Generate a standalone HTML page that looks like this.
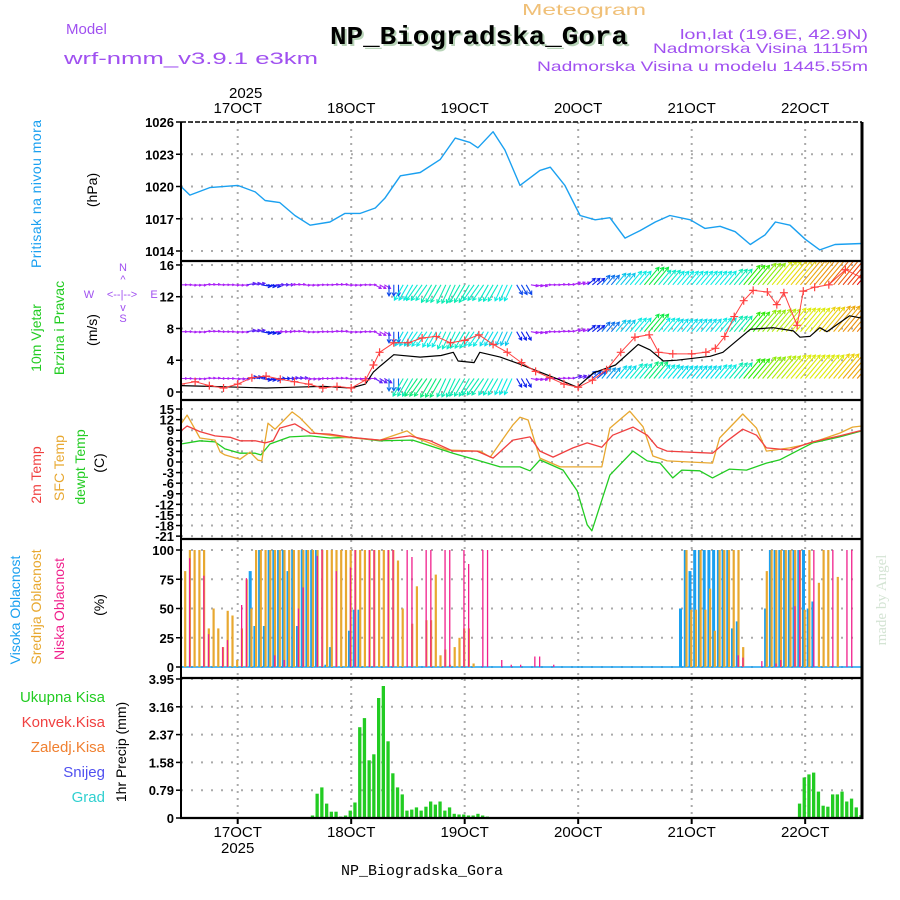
<!DOCTYPE html>
<html><head><meta charset="utf-8"><title>Meteogram NP_Biogradska_Gora</title>
<style>
html,body{margin:0;padding:0;background:#fff;}
svg{display:block;font-family:"Liberation Sans",sans-serif;}
.tick{font:bold 13px "Liberation Sans",sans-serif;fill:#000;text-anchor:end;}
.day{font:15px "Liberation Sans",sans-serif;fill:#000;text-anchor:middle;}
.lab{font:14px "Liberation Sans",sans-serif;text-anchor:middle;}
</style></head>
<body>
<svg id="chart" width="900" height="900" viewBox="0 0 900 900" xmlns="http://www.w3.org/2000/svg">
<defs>
<clipPath id="cp1"><rect x="181" y="122" width="681" height="138"/></clipPath>
<clipPath id="cp2"><rect x="181" y="262" width="681" height="137"/></clipPath>
<clipPath id="cp3"><rect x="181" y="401" width="681" height="137"/></clipPath>
<clipPath id="cp4"><rect x="181" y="540" width="681" height="137"/></clipPath>
<clipPath id="cp5"><rect x="181" y="679" width="681" height="139"/></clipPath>
</defs>
<rect x="0" y="0" width="900" height="900" fill="#fff"/>

<text x="522" y="15" font-size="16" fill="#f0c078" textLength="124" lengthAdjust="spacingAndGlyphs">Meteogram</text>
<text x="66" y="34" font-size="15" fill="#a050f0">Model</text>
<text x="64" y="64" font-size="17" fill="#a050f0" textLength="254" lengthAdjust="spacingAndGlyphs">wrf-nmm_v3.9.1  e3km</text>
<text x="332" y="46" font-family="Liberation Mono" font-weight="bold" font-size="26" fill="#b8d4b8" textLength="298" lengthAdjust="spacingAndGlyphs">NP_Biogradska_Gora</text>
<text x="330" y="44" font-family="Liberation Mono" font-weight="bold" font-size="26" fill="#000" textLength="298" lengthAdjust="spacingAndGlyphs">NP_Biogradska_Gora</text>
<text x="680" y="39" font-size="14" fill="#a050f0" textLength="188" lengthAdjust="spacingAndGlyphs">lon,lat (19.6E, 42.9N)</text>
<text x="653" y="53" font-size="14" fill="#a050f0" textLength="215" lengthAdjust="spacingAndGlyphs">Nadmorska Visina 1115m</text>
<text x="537" y="71" font-size="14" fill="#a050f0" textLength="331" lengthAdjust="spacingAndGlyphs">Nadmorska Visina u modelu 1445.55m</text>

<g id="g1"></g>
<g id="g2"></g>
<g id="g3"></g>
<g id="g4"></g>
<g id="g5"></g>
<g id="gframe"></g>
<g id="gaxis"></g>

<text transform="translate(41,194) rotate(-90)" class="lab" fill="#1aa0f0" textLength="148">Pritisak na nivou mora</text>
<text transform="translate(97,190) rotate(-90)" class="lab" fill="#000">(hPa)</text>
<text transform="translate(41,338) rotate(-90)" class="lab" fill="#22cc22">10m Vjetar</text>
<text transform="translate(64,328) rotate(-90)" class="lab" fill="#22cc22">Brzina i Pravac</text>
<text transform="translate(97,330) rotate(-90)" class="lab" fill="#000">(m/s)</text>
<g font-size="11" fill="#a050f0" text-anchor="middle">
<text x="123" y="271">N</text>
<text x="123" y="283">^</text>
<text x="89" y="298">W</text>
<text x="122" y="298">&lt;--|--&gt;</text>
<text x="154" y="298">E</text>
<text x="123" y="311">v</text>
<text x="123" y="322">S</text>
</g>
<text transform="translate(41,475) rotate(-90)" class="lab" fill="#f04040">2m Temp</text>
<text transform="translate(64,468) rotate(-90)" class="lab" fill="#e8a830">SFC Temp</text>
<text transform="translate(85,467) rotate(-90)" class="lab" fill="#22cc22">dewpt Temp</text>
<text transform="translate(104,463) rotate(-90)" class="lab" fill="#000">(C)</text>
<text transform="translate(20,610) rotate(-90)" class="lab" fill="#1aa0f0">Visoka Oblacnost</text>
<text transform="translate(41,607) rotate(-90)" class="lab" fill="#e8a830">Srednja Oblacnost</text>
<text transform="translate(64,609) rotate(-90)" class="lab" fill="#f0208c">Niska Oblacnost</text>
<text transform="translate(104,605) rotate(-90)" class="lab" fill="#000">(%)</text>
<g font-size="15" text-anchor="end">
<text x="105" y="702" fill="#22cc22">Ukupna  Kisa</text>
<text x="105" y="727" fill="#f04040">Konvek.Kisa</text>
<text x="105" y="752" fill="#f08030">Zaledj.Kisa</text>
<text x="105" y="777" fill="#5050f0">Snijeg</text>
<text x="105" y="802" fill="#30d0d0">Grad</text>
</g>
<text transform="translate(126,752) rotate(-90)" class="lab" fill="#000" font-size="15">1hr Precip (mm)</text>
<text transform="translate(886,600) rotate(-90)" font-family="Liberation Serif" font-size="15" fill="#d4e4d4" text-anchor="middle">made by Angel</text>
<text x="422" y="875" font-family="Liberation Mono" font-size="15" fill="#000" text-anchor="middle">NP_Biogradska_Gora</text>
</svg>
<script>
// ---------- DATA ----------
const dayLabels = ["17OCT","18OCT","19OCT","20OCT","21OCT","22OCT"];
const pressTicks = [1014,1017,1020,1023,1026];
const windTicks = [0,4,8,12,16];
const tempTicks = [15,12,9,6,3,0,-3,-6,-9,-12,-15,-18,-21];
const cloudTicks = [0,25,50,75,100];
const precipTicks = [0,0.79,1.58,2.37,3.16,3.95];

const pressT = [-12,-10.1,-5.9,0,3.7,5.8,8.9,12.1,15.3,19.5,22.7,25.9,29.1,31.1,34.4,38.6,42.8,46,49.1,50.8,54,56.5,59.7,63.9,66.1,69.2,72.4,75.6,78.7,81.9,85.1,88.3,91.4,95.7,98.8,102,105.2,108.4,111.5,113.7,116.8,120,123.1,126.3,132];
const pressV = [1020.0,1019.2,1019.9,1020.1,1019.5,1018.7,1018.5,1017.3,1016.4,1016.7,1017.5,1017.5,1018.0,1018.9,1021.0,1021.3,1022.5,1024.5,1024.1,1023.6,1025.1,1023.4,1020.1,1021.5,1021.8,1020.1,1017.3,1016.9,1017.1,1015.2,1015.9,1016.7,1017.3,1016.9,1016.1,1016.3,1015.8,1014.6,1015.5,1016.7,1016.4,1015.1,1014.1,1014.6,1014.7];

const windT = [-12,-6,0,6,12,18,24,27,28.7,30,33,38.6,43,45.6,46.6,50,51.2,55.5,59.7,63.9,68.2,71.8,75.2,79.9,84.7,87.2,90,92.9,99.9,102.6,108.4,113.2,117.5,118.9,121,123.1,124.6,129.4,132];
const windV = [0.8,0.7,0.6,0.5,0.6,0.7,0.5,1.0,2.5,3.2,4.7,4.4,4.6,5.0,3.9,3.7,5.0,4.4,3.5,2.5,1.5,0.6,2.4,3.4,6.0,5.3,3.9,4.0,4.5,5.0,7.9,8.1,7.7,6.9,7.0,8.1,7.6,9.6,9.3];
const gustT = [-12,-9,-6,-3,0,3,6,9,12,15,18,21,24,27,28.7,30,33,36,39,42,45,48,51,54,57,60,63,66,69,72,75,78,81,84,87,89,92,96,99,101,103,105,107,109,112,114,115.5,118.3,119.6,122,125,128.5,132];
const gustV = [1.0,1.3,0.8,0.5,1.0,1.8,2.0,1.6,1.3,1.0,0.5,0.7,0.5,1.5,3.4,5.0,6.2,6.2,6.8,7.0,6.2,6.5,7.2,6.0,5.0,3.7,2.6,1.8,1.0,0.6,1.5,2.8,5.0,6.9,7.2,5.0,4.8,4.8,5.0,5.5,7.0,9.5,11.5,12.8,12.6,11.0,12.5,8.4,12.7,13.2,13.5,15.4,14.4];

const arrowT = [-12,-9,-6,-3,0,3,6,9,12,15,18,21,24,27,30,33,36,39,42,45,48,51,54,57,60,63,66,69,72,75,78,81,84,87,90,93,96,99,102,105,108,111,114,117,120,123,126,129,132];
const arrowDir = [90,95,85,90,95,80,100,90,85,95,90,85,95,90,120,180,210,215,210,205,210,215,210,205,150,100,90,85,70,50,40,40,40,40,40,40,40,40,40,40,40,40,40,40,40,40,40,40,40];
const speedTop = [1.5,1.5,1.5,1.5,1.5,2.5,3,2.5,1.5,1.5,1.5,1.5,1.5,1.5,2,3.5,6,6.5,7,7,7,6.5,6.5,6,3.5,2,1.5,1.5,2,3,4,5,6,8,6.5,6,6,6,6,7,9,10,11,11.5,12,12.5,13.5,14.5,16];
const speedMid = [1.5,1.5,1.5,1.5,1.5,2.5,3,2,1.5,1.5,1.5,1.5,1.5,1.5,2,3.5,5.5,6,6,6.5,6.5,6,5.5,5,3,2,1.5,1.5,2,3,4,5,6,8,6,5.5,5.5,5.5,6,7,9,10,10.5,11,11,11.5,12,12.5,13];
const speedLow = [1.5,1.5,1.5,1.5,2,3,3,3,2.5,2,1.5,1.5,1.5,1.5,2.5,4,7,7.5,7.5,7,7,7,6.5,6,3,2,1.5,1.5,2.5,3.5,4.5,5.5,6.5,7.5,6,5.5,5.5,5.5,6,7,9,10,10.5,11,11,11,11.5,12,12.5];
const arrowRows = [13.5,7.6,1.7];

const t2T = [-12,-10.7,-8,-4.8,-1.6,0.5,3.7,5.8,7.5,8.9,12.1,15.3,19.5,23.8,30.1,36.4,40.7,45.5,50.6,54,58.2,61.8,63.9,66.7,70.9,73.9,77,79.3,83.6,86.6,88.7,90.8,100.4,103.4,106.8,109.7,111.8,116.7,119.5,121.6,127.3,131.5,132];
const t2V = [8.8,10.2,8.6,7.4,7.0,6.0,6.0,5.4,6.0,9.6,10.8,8.2,7.9,7.0,6.2,7.4,6.0,3.1,3.1,1.1,6.2,7.1,3.1,1.4,4.0,5.4,4.2,7.6,9.9,7.6,4.2,3.1,2.5,5.9,9.3,7.6,4.0,3.4,4.8,5.7,7.4,8.8,8.9];
const sfcT = [-12,-10.7,-8,-4.8,-3.7,-2.7,0.5,2.6,4.3,5.1,6.4,7.9,11.5,13.2,16.3,22.7,30.1,35.8,37.9,44.3,51.2,53.4,58.2,59.7,61.4,63.9,68.2,77,78.7,82.9,85.7,87.8,90.8,100.4,101.9,106.8,109.7,111.8,116.7,119.5,123,127.3,130,132];
const sfcV = [10.8,13.3,6.8,6.2,2.8,2.0,0.8,2.8,0.5,0.3,11,9.3,14.2,12.5,8.2,7.0,6.2,8.8,6.8,3.4,3.1,1.4,10.5,12.7,11.9,1.1,-1.4,-1.4,9.6,14.4,10,1.7,0.3,-0.3,6.8,13.6,9.6,3.1,4.0,4.8,6.2,8.2,9.9,10.2];
const dewT = [-12,-8,-4.8,-2.7,0.5,3.7,4.9,6.8,11,15.3,19.5,23.8,30.1,37,45.5,51.2,55.5,59.7,61.8,63.9,68.8,71.8,73.9,74.9,78.7,83.6,86.6,89.3,92,93.9,97.7,100.4,104,107.6,111.8,114.6,119.5,121.6,127.3,132];
const dewV = [5.1,6.0,5.7,3.7,2.5,2.5,2.0,5.1,7.1,7.4,6.8,7.0,6.0,6.2,2.5,0.3,-1.4,-1.4,-2.5,0.6,-2.3,-8.2,-17.8,-19.5,-3.7,3.1,0.3,-0.3,-4.5,-2.3,-2.5,-4.5,-2.0,-2.3,-0.3,0.6,4.0,5.4,7.1,8.8];

// hourly cloud cover, hours -12 .. 132
const cloudHigh = [
0,0,0,0,0,0,0,0,0,0,0,0,
0,0,0,82,35,100,35,100,100,100,100,82,
100,35,100,100,100,100,0,2,17,0,0,0,
31,49,49,0,0,0,0,0,0,0,0,0,
0,0,0,0,0,0,0,0,0,0,0,0,
0,0,0,0,0,0,0,0,0,0,0,0,
0,0,0,0,0,0,0,0,0,0,0,0,
0,0,0,0,0,0,0,0,0,0,0,0,
0,0,0,0,0,0,0,0,0,0,50,100,
82,100,100,100,100,100,100,100,100,33,39,0,
0,0,0,0,50,100,100,100,100,100,100,100,
100,50,56,0,0,0,0,0,0,0,0,0,
0];
const cloudMid = [
0,82,100,100,100,100,33,50,33,17,48,44,
6,33,75,50,100,100,100,100,100,100,100,100,
100,100,100,100,100,100,100,100,100,100,100,100,
100,100,100,100,100,100,100,100,100,100,91,50,
0,37,69,0,40,40,79,10,15,2,17,25,
33,33,3,0,0,0,0,0,0,0,0,0,
0,0,0,0,0,0,0,0,0,0,0,0,
0,0,0,0,0,0,0,0,0,0,0,0,
0,0,0,0,0,0,0,0,0,0,0,100,
49,49,100,49,67,31,100,100,100,100,100,17,
0,0,0,0,82,100,100,100,100,100,100,100,
49,100,0,72,100,100,0,77,0,0,0,0,
0];
const cloudLow = [
0,0,93,0,0,78,28,0,0,17,23,0,
0,53,76,0,0,0,0,0,10,0,6,0,
0,50,68,0,0,95,100,0,0,82,0,0,
85,100,0,0,100,100,0,0,100,100,0,0,
100,94,0,0,100,100,0,0,100,100,0,0,
100,88,0,0,100,100,0,0,6,0,2,0,
2,0,0,9,9,0,0,2,0,0,0,0,
0,0,0,0,0,0,0,0,0,0,0,0,
0,0,0,0,0,0,0,0,0,0,0,0,
0,0,0,0,0,0,0,0,0,0,10,8,
0,0,0,5,0,0,3,6,0,0,52,100,
0,0,100,0,0,0,100,0,0,100,100,0,
0];

const precipHours = [-7,16,17,18,19,20,21,22,23,24,25,26,27,28,29,30,31,32,33,34,35,36,37,38,39,40,41,42,43,44,45,46,47,48,49,50,51,52,53,119,120,121,122,123,124,125,126,127,128,129,130,131,132];
const precipVals = [0.02,0.07,0.69,0.87,0.41,0.18,0.18,0.04,0.07,0.21,0.44,2.58,2.84,1.64,1.81,3.41,3.75,2.18,1.27,0.87,0.67,0.21,0.24,0.30,0.21,0.32,0.47,0.38,0.47,0.21,0.30,0.12,0.10,0.10,0.07,0.07,0.12,0.07,0.04,0.41,1.15,1.24,1.29,0.75,0.35,0.32,0.67,0.67,0.75,0.47,0.55,0.30,0.08];

// ---------- SCALES ----------
const NS = 'http://www.w3.org/2000/svg';
const svg = document.getElementById('chart');
function mk(tag, attrs, parent){const e=document.createElementNS(NS,tag);for(const k in attrs)e.setAttribute(k,attrs[k]);parent.appendChild(e);return e;}
const X = t => 237.7 + t*4.729;
const yP = v => 122 + (1026-v)*10.75;
const yW = v => 392 - v*7.94;
const yT = v => 462 - v*3.53;
const yC = v => 667 - v*1.17;
const yR = v => 818 - v*35.19;
const X0 = 181, X1 = 862;
const gAxis = document.getElementById('gaxis');
const gFrame = document.getElementById('gframe');

function panelGrid(g, top, bot, ticks, yf, fmt, name){
  for(let d=0; d<dayLabels.length; d++){
    const x = X(d*24);
    const l = mk('line',{x1:x,x2:x,y1:top,y2:bot,stroke:'#aaa','stroke-width':2,'stroke-dasharray':'2,5'},g);
    
    
  }
  ticks.forEach(v=>{
    const y = yf(v);
    const l = mk('line',{x1:X0,x2:X1,y1:y,y2:y,stroke:'#aaa','stroke-width':2,'stroke-dasharray':'2,8'},g);
    
    
    const tk = mk('line',{x1:176,x2:X0,y1:y,y2:y,stroke:'#000','stroke-width':1.5},gAxis);
    
    
    const tx = mk('text',{x:174,y:y+5,class:'tick'},gAxis);
    tx.textContent = fmt(v);
    
    
  });
}
function linePath(g, ts, vs, yf, color, w, name){
  const d = ts.map((t,i)=>(i?'L':'M')+X(t).toFixed(1)+','+yf(vs[i]).toFixed(1)).join(' ');
  const p = mk('path',{d:d,fill:'none',stroke:color,'stroke-width':w,'stroke-linejoin':'round'},g);
  
  
  return p;
}

// ---------- PANEL 1: pressure ----------
const g1 = mk('g',{'clip-path':'url(#cp1)'},document.getElementById('g1'));
panelGrid(g1,122,260,pressTicks,yP,v=>String(v),'pressure');
linePath(g1,pressT,pressV,yP,'#1aa0f0',1.4,'pressure-line');

// ---------- PANEL 2: wind ----------
const g2 = mk('g',{'clip-path':'url(#cp2)'},document.getElementById('g2'));
panelGrid(g2,262,399,windTicks,yW,v=>String(v),'wind');
const hueS = [0,2,3,5,7,8,10,12,14,16,18];
const hueH = [280,278,235,190,165,135,85,42,18,0,-20];
function speedColor(s){
  let h = hueH[hueH.length-1];
  for(let i=0;i<hueS.length-1;i++){ if(s<=hueS[i+1]){ const f=(s-hueS[i])/(hueS[i+1]-hueS[i]); h=hueH[i]+f*(hueH[i+1]-hueH[i]); break; } }
  if(h<0)h+=360;
  return 'hsl('+h.toFixed(0)+',92%,'+(h>250?'55%':'48%')+')';
}
const speedRows = [speedTop,speedMid,speedLow];
speedRows.forEach((sp,r)=>{
  const by = yW(arrowRows[r]);
  arrowT.forEach((t,i)=>{
    for(let k=0;k<3;k++){
      const tt = t + k - 1;
      if(tt < -12 || tt > 133) continue;
      const s = sp[i], a = arrowDir[i]*Math.PI/180;
      const L = Math.min(2+2.6*s, 40);
      const hs = Math.min(4, L*0.35);
      const x0 = X(tt), x1 = x0 + L*Math.sin(a), y1 = by - L*Math.cos(a);
      const ux = Math.sin(a), uy = -Math.cos(a);
      const hx1 = x1 - hs*(ux*0.87 - uy*0.5), hy1 = y1 - hs*(uy*0.87 + ux*0.5);
      const hx2 = x1 - hs*(ux*0.87 + uy*0.5), hy2 = y1 - hs*(uy*0.87 - ux*0.5);
      const p = mk('path',{d:'M'+x0.toFixed(1)+','+by.toFixed(1)+' L'+x1.toFixed(1)+','+y1.toFixed(1)+' M'+hx1.toFixed(1)+','+hy1.toFixed(1)+' L'+x1.toFixed(1)+','+y1.toFixed(1)+' L'+hx2.toFixed(1)+','+hy2.toFixed(1),fill:'none',stroke:speedColor(s),'stroke-width':1.1},g2);
      
      
    }
  });
});
linePath(g2,windT,windV,yW,'#000',1.2,'wind-speed-line');
linePath(g2,gustT,gustV,yW,'#ff4040',1,'wind-gust-line');
gustT.forEach((t,i)=>{
  const x=X(t), y=yW(gustV[i]);
  const c = mk('path',{d:'M'+(x-4)+','+y+' H'+(x+4)+' M'+x+','+(y-4)+' V'+(y+4),stroke:'#ff4040','stroke-width':1.2},g2);
  
  
});

// ---------- PANEL 3: temperature ----------
const g3 = mk('g',{'clip-path':'url(#cp3)'},document.getElementById('g3'));
panelGrid(g3,401,538,tempTicks,yT,v=>String(v),'temp');
linePath(g3,dewT,dewV,yT,'#22cc22',1.3,'dewpoint-line');
linePath(g3,sfcT,sfcV,yT,'#e8a830',1.3,'sfc-temp-line');
linePath(g3,t2T,t2V,yT,'#f04040',1.3,'temp2m-line');

// ---------- PANEL 4: clouds ----------
const g4 = mk('g',{'clip-path':'url(#cp4)'},document.getElementById('g4'));
panelGrid(g4,540,677,cloudTicks,yC,v=>String(v),'cloud');
const zl = mk('line',{x1:X0,x2:X1,y1:yC(0),y2:yC(0),stroke:'#1aa0f0','stroke-width':1.5},g4);


[[cloudHigh,'#1aa0f0',-3.2,3,'high-cloud-bar'],[cloudMid,'#e8a830',-1.6,2.2,'mid-cloud-bar'],[cloudLow,'#f0208c',-1.4,1.3,'low-cloud-bar']].forEach(([arr,col,off,w,name])=>{
  arr.forEach((v,i)=>{
    if(v<=0) return;
    const h = i-12, y = yC(v);
    const b = mk('rect',{x:(X(h)+off).toFixed(1),y:y.toFixed(1),width:w,height:(yC(0)-y).toFixed(1),fill:col},g4);
    
    
  });
});

// ---------- PANEL 5: precipitation ----------
const g5 = mk('g',{'clip-path':'url(#cp5)'},document.getElementById('g5'));
panelGrid(g5,679,818,precipTicks,yR,v=>String(v),'precip');
precipHours.forEach((h,i)=>{
  const y = yR(precipVals[i]);
  const b = mk('rect',{x:(X(h)-2.6).toFixed(1),y:y.toFixed(1),width:3.3,height:(818-y).toFixed(1),fill:'#22cc22'},g5);
  
  
});

// ---------- FRAME ----------
[261,400,539,678,818].forEach(y=>{
  const l = mk('line',{x1:X0-1,x2:X1+1,y1:y,y2:y,stroke:'#000','stroke-width':2.2},gFrame);
  
  
});
const topl = mk('line',{x1:X0,x2:X1,y1:122,y2:122,stroke:'#000','stroke-width':1.6,'stroke-dasharray':'5,2'},gFrame);


[X0,X1].forEach((x,i)=>{
  const l = mk('line',{x1:x,x2:x,y1:122,y2:819,stroke:'#000','stroke-width':i?3:2},gFrame);
  
  
});
dayLabels.forEach((lab,d)=>{
  const x = X(d*24);
  const t1 = mk('text',{x:x,y:113,class:'day'},gAxis);
  t1.textContent = lab;
  
  
  const t2 = mk('text',{x:x,y:837,class:'day'},gAxis);
  t2.textContent = lab;
  
  
  const tk = mk('line',{x1:x,x2:x,y1:818,y2:824,stroke:'#000','stroke-width':2},gAxis);
  
  
});
const y1 = mk('text',{x:X(0)+8,y:98,class:'day'},gAxis);
y1.textContent = '2025';


const y2 = mk('text',{x:X(0),y:853,class:'day'},gAxis);
y2.textContent = '2025';


</script>
</body></html>
